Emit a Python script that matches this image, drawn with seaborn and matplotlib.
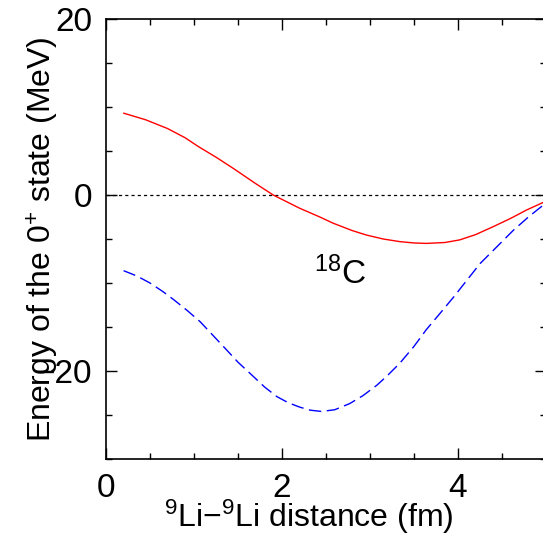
import matplotlib
matplotlib.use("Agg")
import matplotlib.pyplot as plt
import seaborn as sns
import pandas as pd
import numpy as np

# Data
red_x = [0.2, 0.45, 0.7, 0.9, 1.05, 1.25, 1.45, 1.7, 1.9, 2.2, 2.43, 2.58, 2.8, 2.96,
         3.15, 3.34, 3.5, 3.64, 3.85, 4.02, 4.2, 4.4, 4.6, 4.78, 5.0]
red_y = [9.3, 8.55, 7.55, 6.5, 5.5, 4.3, 3.0, 1.3, 0.0, -1.5, -2.5, -3.2, -4.05, -4.55,
         -5.0, -5.3, -5.45, -5.5, -5.4, -5.1, -4.5, -3.6, -2.65, -1.7, -0.7]
blue_x = [0.2, 0.35, 0.5, 0.65, 0.77, 0.92, 1.07, 1.22, 1.37, 1.5, 1.64, 1.8, 1.94, 2.07,
          2.2, 2.32, 2.45, 2.6, 2.77, 2.92, 3.08, 3.2, 3.34, 3.5, 3.64, 3.8, 3.95, 4.1,
          4.25, 4.45, 4.63, 4.8, 5.0]
blue_y = [-8.6, -9.2, -10.0, -11.0, -11.9, -13.1, -14.4, -16.0, -17.6, -19.0, -20.3, -21.8,
          -22.9, -23.6, -24.1, -24.45, -24.6, -24.4, -23.7, -22.8, -21.6, -20.5, -19.1,
          -17.2, -15.3, -13.4, -11.6, -9.7, -7.8, -5.8, -4.0, -2.5, -0.9]
zero_x = [0.0, 5.0]
zero_y = [0.0, 0.0]

x_ticks = [0, 2, 4]
y_ticks = [-20, 0, 20]
y_tick_labels = ["\u221220", "0", "20"]

sns.set_style("ticks")
plt.rcParams['font.family'] = ['Liberation Sans', 'DejaVu Sans']
plt.rcParams['mathtext.fontset'] = 'custom'
plt.rcParams['mathtext.rm'] = 'Liberation Sans'
plt.rcParams['mathtext.it'] = 'Liberation Sans'
for k in ['text.color', 'axes.labelcolor', 'xtick.color', 'ytick.color', 'axes.edgecolor']:
    plt.rcParams[k] = 'black'

fig = plt.figure(figsize=(5.43, 5.37), dpi=100)
ax = fig.add_axes([106/543, 78/537, 440/543, 440/537])

df_red = pd.DataFrame({"x": red_x, "y": red_y})
df_blue = pd.DataFrame({"x": blue_x, "y": blue_y})
df_zero = pd.DataFrame({"x": zero_x, "y": zero_y})

sns.lineplot(data=df_zero, x="x", y="y", ax=ax, color="black", lw=0.9,
             linestyle=(0, (2.5, 2.5)), sort=False)
sns.lineplot(data=df_red, x="x", y="y", ax=ax, color="#ff0000", lw=1.0, sort=False)
sns.lineplot(data=df_blue, x="x", y="y", ax=ax, color="#0000ff", lw=1.0,
             linestyle=(0, (9, 4)), sort=False)

ax.set_xlim(0, 5)
ax.set_ylim(-30, 20)
ax.set_xticks(x_ticks)
ax.set_yticks(y_ticks)
ax.set_xticks(np.arange(0, 5.01, 0.5), minor=True)
ax.set_yticks(np.arange(-30, 20.01, 5), minor=True)
ax.set_xticklabels([str(t) for t in x_ticks])
ax.set_yticklabels(y_tick_labels)
ax.tick_params(which="both", direction="in", top=True, right=True,
               labelsize=24, width=1.0, pad=10)
ax.tick_params(which="major", length=8)
ax.tick_params(which="minor", length=4)
for s in ax.spines.values():
    s.set_linewidth(1.2)

ax.set_xlabel("$^{9}$Li\u2212$^{9}$Li distance (fm)", fontsize=23, labelpad=-3)
ax.xaxis.set_label_coords(0.46, -0.088)
ax.set_ylabel("Energy of the 0$^{+}$ state (MeV)", fontsize=23, labelpad=-18)

ax.text(2.66, -9.0, "$^{18}$C", fontsize=24, ha="center", va="center")

fig.savefig("out.png", dpi=100)
